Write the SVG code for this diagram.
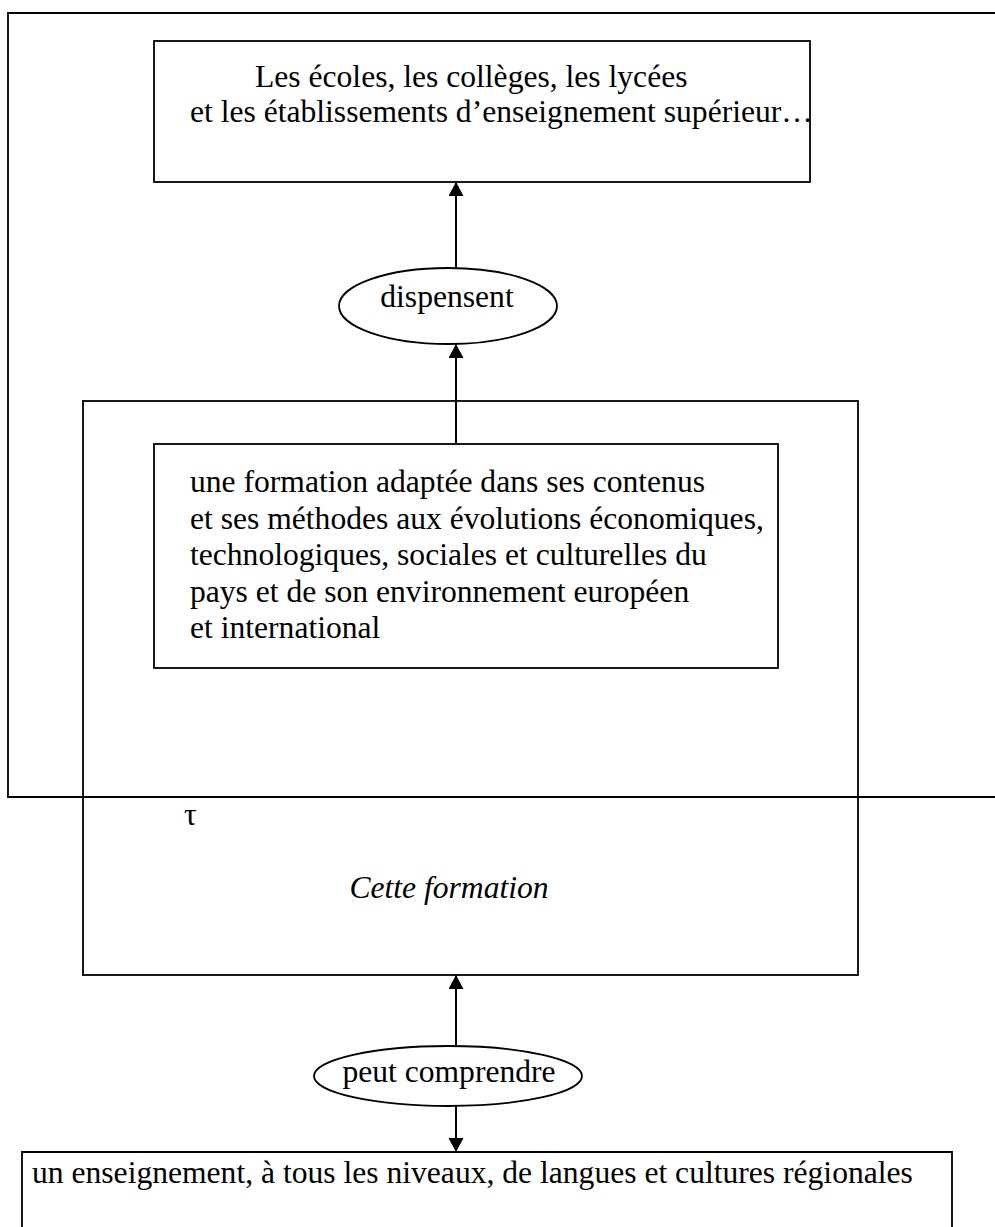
<svg xmlns="http://www.w3.org/2000/svg" width="995" height="1227" viewBox="0 0 995 1227">
<style>
  .box { fill: none; stroke: #000; stroke-width: 1.8; }
  .ell { fill: #fff; stroke: #000; stroke-width: 1.8; }
  .t { font-family: "Liberation Serif", "Times New Roman", serif; font-size: 31.6px; fill: #000; }
  .it { font-style: italic; }
  .conn { stroke: #000; stroke-width: 2; fill: none; marker-end: url(#arr); }
</style>
<defs>
  <marker id="arr" markerUnits="userSpaceOnUse" markerWidth="16" markerHeight="16" refX="14" refY="7.5" orient="auto">
    <path d="M0,0 L14,7.5 L0,15 z" fill="#000"/>
  </marker>
</defs>
<rect width="995" height="1227" fill="#fff"/>
<g id="outer">
  <path class="box" d="M995,13 H8 V797 H995"/>
</g>
<g id="etablissements">
  <rect class="box" x="154" y="41" width="656" height="141"/>
  <text class="t" x="255" y="87">Les écoles, les collèges, les lycées</text>
  <text class="t" x="190" y="122">et les établissements d’enseignement supérieur…</text>
</g>
<g id="cette-formation">
  <rect class="box" x="83" y="401" width="775" height="574"/>
  <text class="t" x="184" y="825">τ</text>
  <text class="t it" x="449" y="898" text-anchor="middle">Cette formation</text>
</g>
<g id="formation-adaptee">
  <rect class="box" x="154" y="444" width="624" height="224"/>
  <text class="t" x="190" y="492">une formation adaptée dans ses contenus</text>
  <text class="t" x="190" y="529">et ses méthodes aux évolutions économiques,</text>
  <text class="t" x="190" y="565">technologiques, sociales et culturelles du</text>
  <text class="t" x="190" y="602">pays et de son environnement européen</text>
  <text class="t" x="190" y="638">et international</text>
</g>
<g id="enseignement-langues">
  <path class="box" d="M22,1240 V1152 H952 V1240"/>
  <text class="t" x="32" y="1183">un enseignement, à tous les niveaux, de langues et cultures régionales</text>
</g>
<g id="connectors">
  <line class="conn" x1="456" y1="268" x2="456" y2="182"/>
  <line class="conn" x1="456" y1="445" x2="456" y2="344"/>
  <line class="conn" x1="456" y1="1046" x2="456" y2="975"/>
  <line class="conn" x1="456" y1="1106" x2="456" y2="1152"/>
</g>
<g id="dispensent">
  <ellipse class="ell" cx="448" cy="306" rx="109" ry="38"/>
  <text class="t" x="447" y="307" text-anchor="middle">dispensent</text>
</g>
<g id="peut-comprendre">
  <ellipse class="ell" cx="448" cy="1076" rx="134" ry="30"/>
  <text class="t" x="449" y="1082" text-anchor="middle">peut comprendre</text>
</g>
</svg>
